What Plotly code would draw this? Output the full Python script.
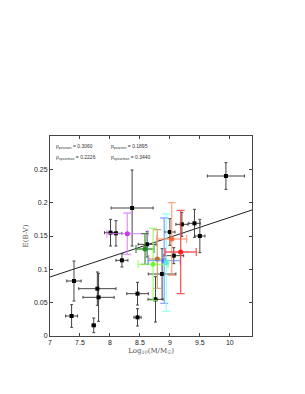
import plotly.graph_objects as go

# Black (uncoloured) sample
bx = [7.40, 7.36, 7.73, 7.79, 7.81, 8.01, 8.10, 8.20, 8.37, 8.46, 8.46, 8.62, 8.76, 8.87, 9.00, 9.065, 9.20, 9.41, 9.50, 9.935]
by = [0.0825, 0.030, 0.016, 0.071, 0.058, 0.155, 0.154, 0.1135, 0.192, 0.0635, 0.028, 0.1375, 0.055, 0.093, 0.156, 0.1205, 0.1675, 0.169, 0.150, 0.240]
bxe = [0.12, 0.10, 0.03, 0.31, 0.26, 0.10, 0.10, 0.10, 0.35, 0.18, 0.06, 0.15, 0.125, 0.23, 0.085, 0.165, 0.10, 0.095, 0.085, 0.31]
bye = [0.030, 0.017, 0.011, 0.025, 0.036, 0.020, 0.019, 0.010, 0.057, 0.017, 0.013, 0.019, 0.034, 0.038, 0.020, 0.012, 0.018, 0.021, 0.025, 0.020]

# Coloured sample
cx = [8.29, 8.585, 8.72, 8.79, 8.905, 8.94, 9.03, 9.18]
cy = [0.1535, 0.1305, 0.1075, 0.1155, 0.113, 0.110, 0.1455, 0.126]
cxe = [0.34, 0.15, 0.25, 0.145, 0.27, 0.03, 0.25, 0.26]
cye = [0.031, 0.023, 0.054, 0.044, 0.064, 0.073, 0.0545, 0.0625]
cmark = ["#cc33ff", "#228b22", "#66ff33", "#b87333", "#4466ff", "#55eedd", "#ff6633", "#ff1a1a"]
cbar = ["rgba(220,120,255,0.75)", "rgba(40,140,40,0.85)", "rgba(140,255,90,0.8)", "rgba(200,150,100,0.8)",
        "rgba(100,140,255,0.75)", "rgba(130,255,230,0.75)", "rgba(255,150,110,0.8)", "rgba(255,60,60,0.85)"]

# Fitted line
line_x = [7.0, 10.37]
line_y = [0.0885, 0.189]

stats_left = ["ρ<sub>pearson</sub> = 0.3060", "ρ<sub>spearman</sub> = 0.2226"]
stats_right = ["p<sub>pearson</sub> = 0.1895", "p<sub>spearman</sub> = 0.3440"]

fig = go.Figure()

fig.add_trace(go.Scatter(x=line_x, y=line_y, mode="lines",
                         line=dict(color="#222222", width=1), showlegend=False))

fig.add_trace(go.Scatter(
    x=bx, y=by, mode="markers",
    marker=dict(symbol="square", size=4, color="black"),
    error_x=dict(type="data", array=bxe, color="#444444", thickness=1, width=1.5),
    error_y=dict(type="data", array=bye, color="#444444", thickness=1, width=1.5),
    showlegend=False))

for i in range(len(cx)):
    fig.add_trace(go.Scatter(
        x=[cx[i]], y=[cy[i]], mode="markers",
        marker=dict(symbol="circle", size=5, color=cmark[i]),
        error_x=dict(type="data", array=[cxe[i]], color=cbar[i], thickness=1.3, width=4),
        error_y=dict(type="data", array=[cye[i]], color=cbar[i], thickness=1.3, width=4),
        showlegend=False))

annots = []
for j, t in enumerate(stats_left):
    annots.append(dict(x=7.07, y=0.285 - j * 0.017, xref="x", yref="y", text=t, showarrow=False,
                       xanchor="left", yanchor="middle", font=dict(size=5, color="#333333", family="Liberation Sans")))
for j, t in enumerate(stats_right):
    annots.append(dict(x=7.98, y=0.285 - j * 0.017, xref="x", yref="y", text=t, showarrow=False,
                       xanchor="left", yanchor="middle", font=dict(size=5, color="#333333", family="Liberation Sans")))

axis_common = dict(showgrid=False, zeroline=False, showline=True, linecolor="#444444", linewidth=1,
                   mirror="ticks", ticks="inside", ticklen=3, tickcolor="#444444", automargin=False,
                   tickfont=dict(size=7, color="#222222", family="Liberation Sans"))

fig.update_layout(
    width=305, height=394,
    margin=dict(l=42, r=61, t=128, b=66),
    paper_bgcolor="white", plot_bgcolor="white",
    annotations=annots,
    xaxis=dict(range=[7, 10.37], tickvals=[7, 7.5, 8, 8.5, 9, 9.5, 10],
               ticktext=["7", "7.5", "8", "8.5", "9", "9.5", "10"],
               title=dict(text="Log<sub>10</sub>(M/M<sub>☉</sub>)", standoff=2,
                          font=dict(size=7, family="DejaVu Serif", color="#555555")),
               **axis_common),
    yaxis=dict(range=[0, 0.3], tickvals=[0, 0.05, 0.1, 0.15, 0.2, 0.25],
               ticktext=["0", "0.05", "0.1", "0.15", "0.2", "0.25"],
               title=dict(text="E(B-V)", standoff=4,
                          font=dict(size=7, family="DejaVu Serif", color="#555555")),
               **axis_common),
)

fig.write_html("out.html")
